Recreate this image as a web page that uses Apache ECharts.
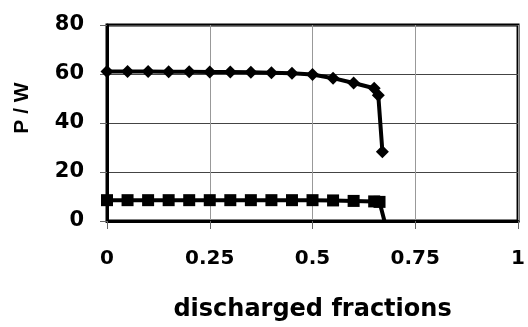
<!DOCTYPE html>
<html><head><meta charset="utf-8">
<script src="https://cdn.jsdelivr.net/npm/echarts@6/dist/echarts.min.js"></script>
<style>html,body{margin:0;padding:0;background:#fff}#c{width:528px;height:327px}</style>
</head><body><div id="c"></div>
<script>
var xTicks = [0, 0.25, 0.5, 0.75, 1];
var yTicks = [0, 20, 40, 60, 80];
var diamondX = [0, 0.05, 0.1, 0.15, 0.2, 0.25, 0.3, 0.35, 0.4, 0.45, 0.5, 0.55, 0.6, 0.65, 0.66, 0.67];
var diamondP = [61.0, 61.0, 61.0, 60.9, 60.9, 60.8, 60.8, 60.7, 60.5, 60.3, 59.8, 58.3, 56.3, 54.2, 51.3, 28.3];
var squareX = [0, 0.05, 0.1, 0.15, 0.2, 0.25, 0.3, 0.35, 0.4, 0.45, 0.5, 0.55, 0.6, 0.65, 0.663, 0.675];
var squareP = [8.5, 8.5, 8.5, 8.5, 8.5, 8.5, 8.5, 8.5, 8.5, 8.5, 8.5, 8.4, 8.2, 8.0, 7.8, 0];

var chart = echarts.init(document.getElementById('c'), null, {renderer: 'canvas'});
var font = 'DejaVu Sans';
function pairs(xs, ys) { return xs.map(function (x, i) { return [x, ys[i]]; }); }
var sqData = pairs(squareX, squareP).map(function (p, i) {
  return i === squareX.length - 1 ? {value: p, symbol: 'none'} : p;
});
chart.setOption({
  animation: false,
  grid: {left: 107, right: 5, top: 25, bottom: 105, show: true, borderColor: '#000', borderWidth: 3},
  xAxis: {
    type: 'value', min: xTicks[0], max: xTicks[xTicks.length - 1], interval: 0.25,
    name: 'discharged fractions', nameLocation: 'middle', nameGap: 77,
    nameTextStyle: {fontFamily: font, fontWeight: 'bold', fontSize: 24, color: '#000'},
    axisLine: {show: true, lineStyle: {color: '#000', width: 3}},
    axisTick: {show: true, length: 8, lineStyle: {color: '#666', width: 1}},
    axisLabel: {fontFamily: font, fontWeight: 'bold', fontSize: 20, color: '#000', margin: 28,
      formatter: function (v) { return String(v); }},
    splitLine: {show: true, lineStyle: {color: '#999', width: 1}}
  },
  yAxis: {
    type: 'value', min: yTicks[0], max: yTicks[yTicks.length - 1], interval: 20,
    name: 'P / W', nameLocation: 'middle', nameGap: 74,
    nameTextStyle: {fontFamily: 'Liberation Sans', fontWeight: 'bold', fontSize: 21, color: '#000', padding: [0, 0, 0, 30]},
    axisLine: {show: true, lineStyle: {color: '#000', width: 3}},
    axisTick: {show: true, length: 7, lineStyle: {color: '#666', width: 1}},
    axisLabel: {fontFamily: font, fontWeight: 'bold', fontSize: 21, color: '#000', margin: 23},
    splitLine: {show: true, lineStyle: {color: '#444', width: 1}}
  },
  series: [
    {type: 'line', data: pairs(diamondX, diamondP), symbol: 'diamond', symbolSize: [13, 13],
      lineStyle: {color: '#000', width: 4}, itemStyle: {color: '#000'}, z: 5},
    {type: 'line', data: sqData, symbol: 'rect', symbolSize: 12,
      lineStyle: {color: '#000', width: 4}, itemStyle: {color: '#000'}, z: 5}
  ]
});
</script></body></html>
